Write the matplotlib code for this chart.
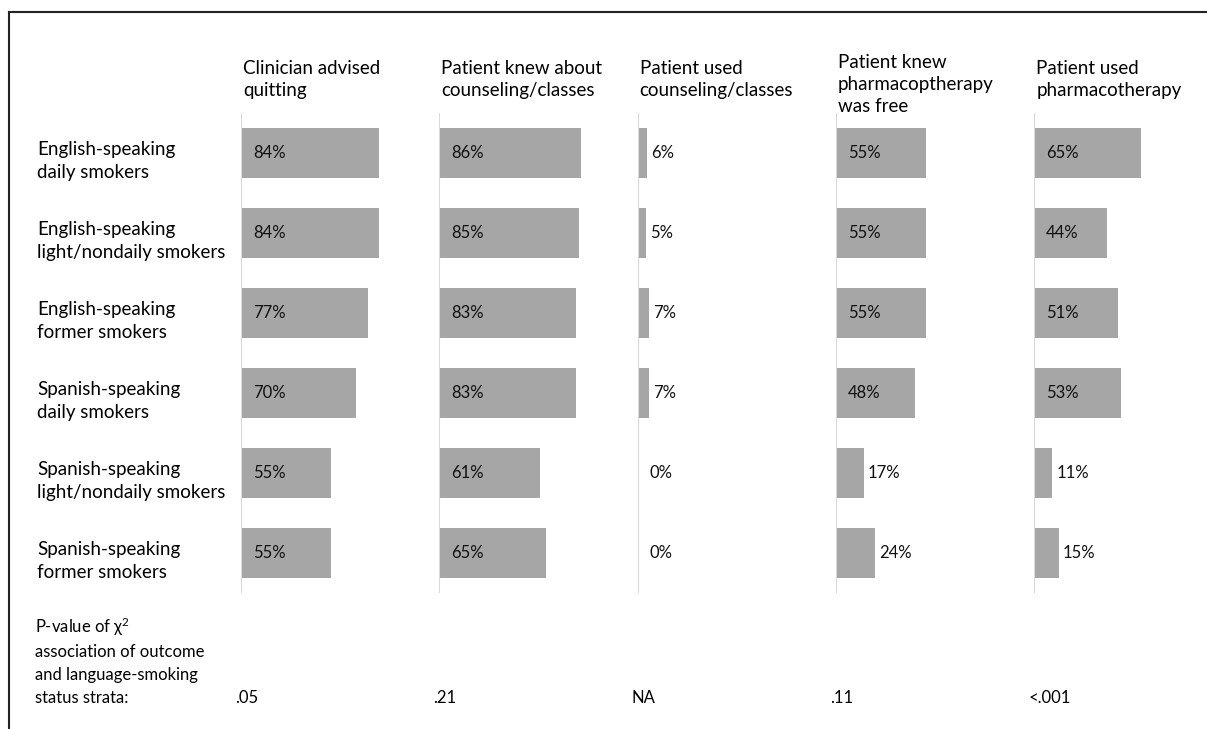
import numpy as np
import matplotlib
matplotlib.use('Agg')
import matplotlib.pyplot as plt

plt.rcParams['font.family'] = ['Lato', 'DejaVu Sans']
plt.rcParams['mathtext.default'] = 'regular'

groups = ['English-speaking\ndaily smokers',
          'English-speaking\nlight/nondaily smokers',
          'English-speaking\nformer smokers',
          'Spanish-speaking\ndaily smokers',
          'Spanish-speaking\nlight/nondaily smokers',
          'Spanish-speaking\nformer smokers']

outcomes = ['Clinician advised\nquitting',
            'Patient knew about\ncounseling/classes',
            'Patient used\ncounseling/classes',
            'Patient knew\npharmacoptherapy\nwas free',
            'Patient used\npharmacotherapy']

advised = [84, 84, 77, 70, 55, 55]
knew_counsel = [86, 85, 83, 83, 61, 65]
used_counsel = [6, 5, 7, 7, 0, 0]
knew_pharma = [55, 55, 55, 48, 17, 24]
used_pharma = [65, 44, 51, 53, 11, 15]

pvalues = ['.05', '.21', 'NA', '.11', '<.001']

W, H = 1207, 729
fig = plt.figure(figsize=(W / 100, H / 100), dpi=100)

def fx(px):
    return px / W

def fy(py):
    return 1 - py / H

series = [advised, knew_counsel, used_counsel, knew_pharma, used_pharma]
bar_color = '#a6a6a6'
rows = np.arange(len(groups))

# panels: 100% = 164.5 px, axis spans y 113..593 px
for i, vals in enumerate(series):
    x0 = 241 + i * 198.3
    ax = fig.add_axes([fx(x0), fy(593), fx(164.5), 480 / H])
    ax.barh(rows, vals, height=0.625, color=bar_color, edgecolor='none')
    ax.set_xlim(0, 100)
    ax.set_ylim(len(groups) - 0.5, -0.5)
    ax.axis('off')
    ax.axvline(0, color='#d9d9d9', lw=1.5)
    for r, v in zip(rows, vals):
        if v < 30:
            xt = max(v + 4 / 1.645, 12 / 1.645)
        else:
            xt = 12 / 1.645
        ax.text(xt, r, f'{v}%', va='center', ha='left', fontsize=12,
                color='#111111')
    top = 54 if i == 3 else 60
    fig.text(fx(x0 + 2), fy(top), outcomes[i], ha='left', va='top',
             fontsize=13.5, linespacing=1.37)
    fig.text(fx(x0 - 6), fy(703), pvalues[i], ha='left', va='baseline',
             fontsize=12)

for r, g in enumerate(groups):
    fig.text(fx(37), fy(161 + r * 80), g, ha='left', va='center',
             fontsize=13.5, linespacing=1.37)

fig.text(fx(35), fy(703), 'P-value of χ$^2$\nassociation of outcome\n'
         'and language-smoking\nstatus strata:', ha='left', va='baseline',
         fontsize=12, linespacing=1.52)

# frame: top and left only
fig.add_artist(plt.Line2D([fx(9), 1], [fy(12), fy(12)], color='#222222', lw=1.5))
fig.add_artist(plt.Line2D([fx(9), fx(9)], [fy(12), 0], color='#222222', lw=1.5))

plt.savefig('out.png', dpi=100)
